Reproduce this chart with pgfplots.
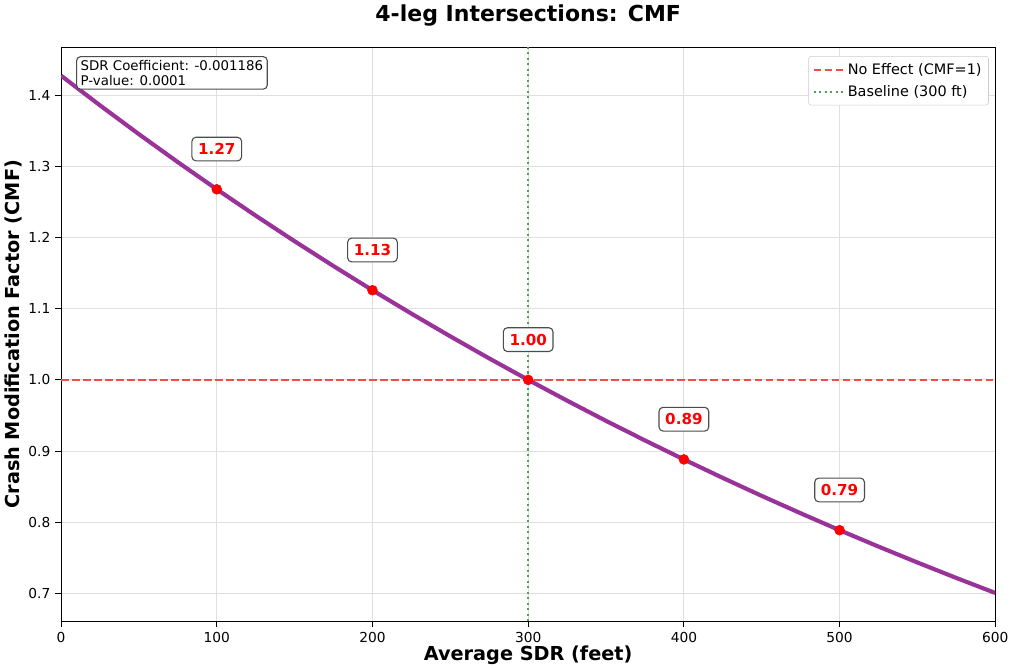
\documentclass[border=0pt]{standalone}
\usepackage{pgfplots}
\pgfplotsset{compat=1.18}
\usepackage{fontspec}
\setmainfont{DejaVu Sans}
\definecolor{curve}{HTML}{993399}
\definecolor{noeff}{HTML}{F04D4D}
\definecolor{base}{HTML}{4DA64D}
\begin{document}
\begin{tikzpicture}
\begin{axis}[
  scale only axis,
  width=679pt, height=417pt,
  xmin=0, xmax=600, ymin=0.661, ymax=1.467,
  xtick={0,100,...,600},
  ytick={0.7,0.8,0.9,1.0,1.1,1.2,1.3,1.4},
  yticklabel style={/pgf/number format/fixed,/pgf/number format/precision=1,/pgf/number format/fixed zerofill},
  /pgf/number format/assume math mode=true,
  tick label style={font=\fontsize{10}{12}\selectfont},
  grid=major, grid style={gray!25, line width=0.6pt},
  tick align=outside, tick pos=left, tick style={black, line width=0.6pt},
  axis line style={line width=0.6pt},
  xlabel={\textbf{Average SDR (feet)}},
  ylabel={\textbf{Crash Modification Factor (CMF)}},
  label style={font=\fontsize{14}{16}\selectfont},
  xlabel style={yshift=4pt},
  ylabel style={yshift=-2pt},
  title={\textbf{4-leg Intersections: CMF}},
  title style={font=\fontsize{16}{19}\selectfont, yshift=6pt},
  legend style={at={(rel axis cs:0.993,0.985)}, anchor=north east, font=\fontsize{10.5}{13}\selectfont, draw=gray!40, rounded corners=2pt, cells={anchor=west}, row sep=2.5pt, inner xsep=3pt, inner ysep=3pt},
  legend cell align=left,
  legend image code/.code={\draw[#1] (0pt,0pt) -- (22pt,0pt);},
]
\addplot[curve, line width=3pt, forget plot] coordinates {
(0,1.4273) (25,1.38562) (50,1.3451) (75,1.30585) (100,1.2677) (125,1.23066) (150,1.1947) (175,1.15980)
(200,1.1259) (225,1.09303) (250,1.0611) (275,1.03009) (300,1.0) (325,0.97079) (350,0.9424) (375,0.91489)
(400,0.8882) (425,0.86222) (450,0.8370) (475,0.81257) (500,0.7888) (525,0.76578) (550,0.7434) (575,0.72169) (600,0.7006)};
\addplot[noeff, line width=1.5pt, dash pattern=on 5.5pt off 2.5pt] coordinates {(0,1) (600,1)};
\addlegendentry{No Effect (CMF=1)}
\addplot[base, line width=1.5pt, dash pattern=on 1.5pt off 2.5pt] coordinates {(300,0.661) (300,1.467)};
\addlegendentry{Baseline (300 ft)}
\addplot[only marks, mark=*, red, mark size=3.6pt, forget plot] coordinates {
(100,1.2677) (200,1.1259) (300,1.0) (400,0.8882) (500,0.7888)};
\foreach \x/\y/\t in {100/1.2677/1.27, 200/1.1259/1.13, 300/1.0/1.00, 400/0.8882/0.89, 500/0.7888/0.79}{
  \edef\temp{\noexpand\node[draw=black!70, line width=0.8pt, fill=white, rounded corners=3pt, inner xsep=4.5pt, inner ysep=4.5pt, text=red, font=\noexpand\fontsize{11}{13}\noexpand\selectfont\noexpand\bfseries] at (axis cs:\x,\y+0.0565) {\t};}
  \temp
}
\node[anchor=north west, draw=black!70, line width=0.8pt, fill=white, rounded corners=3pt, inner xsep=3pt, inner ysep=2.5pt, align=left, font=\fontsize{9.7}{11.2}\selectfont] at (rel axis cs:0.016,0.985) {SDR Coefficient: -0.001186\\P-value: 0.0001};
\end{axis}
\end{tikzpicture}
\end{document}
